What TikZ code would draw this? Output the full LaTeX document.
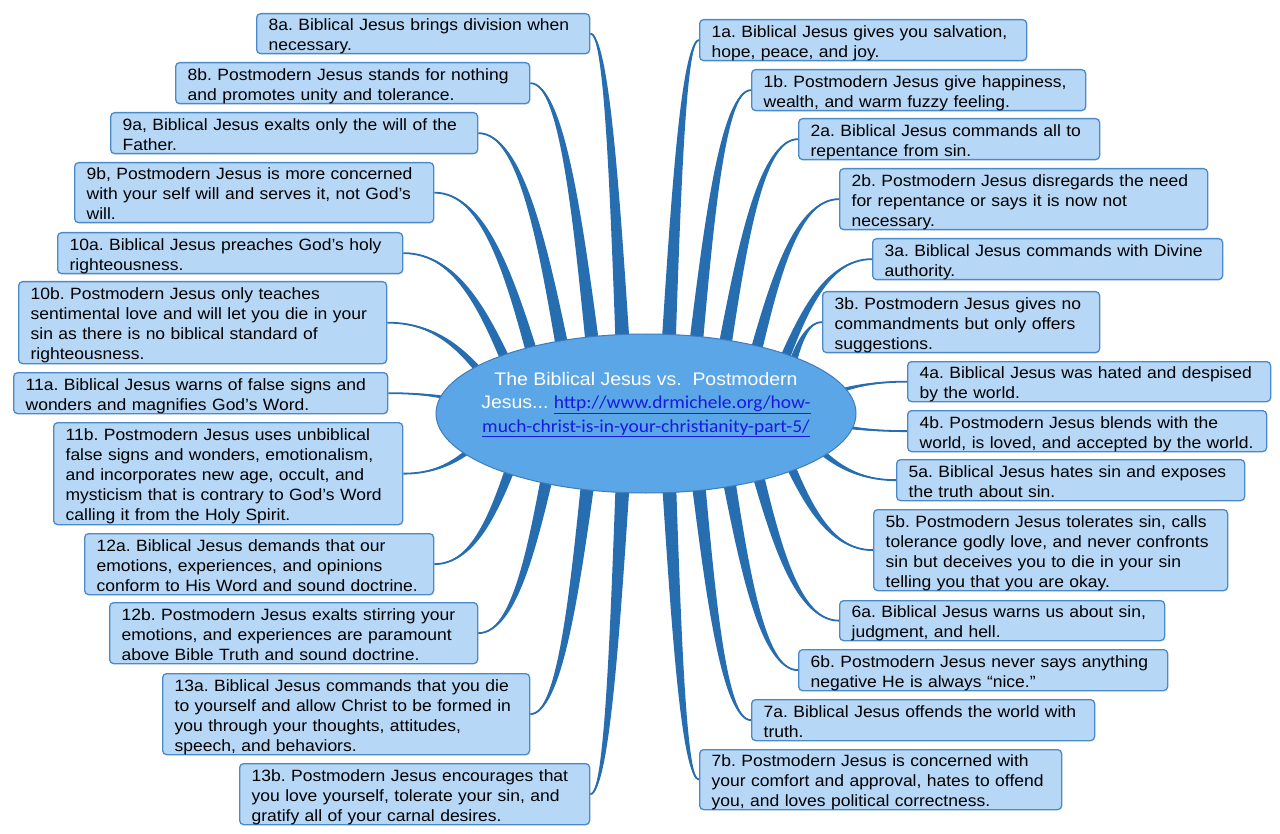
\documentclass[tikz,border=0pt]{standalone}
\usepackage{fontspec}
\setmainfont{Liberation Sans}[FakeStretch=1.07]
\newfontfamily\linkfont{Carlito}[FakeStretch=1.07]
\usetikzlibrary{calc,shapes.geometric}
\pgfdeclarelayer{bg}
\pgfsetlayers{bg,main}
\frenchspacing
\definecolor{boxfill}{RGB}{182,215,246}
\definecolor{boxline}{RGB}{74,138,200}
\definecolor{branchc}{RGB}{39,110,176}
\definecolor{hubfill}{RGB}{91,166,230}
\definecolor{hubline}{RGB}{62,124,190}
\definecolor{linkc}{RGB}{25,25,225}
\newcommand\blines[1]{\raisebox{0pt}[\height][\dimexpr\depth-6pt\relax]{\begin{tabular}{@{}l@{}}#1\end{tabular}}}
\newcommand\bx[6]{\node[box,minimum height=#5pt,text width=\dimexpr#4pt-24pt\relax] (#1) at (#2,#3) {\blines{#6}};}
\newcommand\lnk[1]{{\linkfont\color{linkc}\underline{#1}}}
\newcommand\mybranch[2]{%
  \coordinate (E) at (#1.#2);
  \pgfmathanglebetweenpoints{\pgfpointanchor{O}{center}}{\pgfpointanchor{E}{center}}%
  \let\brang\pgfmathresult
  \pgfmathsetmacro\brsx{157.5*cos(\brang)}%
  \pgfmathsetmacro\brsy{59.6*sin(\brang)}%
  \pgfmathsetmacro\brhw{3.2+4*abs(sin(\brang))}%
  \coordinate (S) at ($(O)+(\brsx pt,\brsy pt)$);
  \coordinate (K) at ($(E)!0.5!(S |- E)$);
  \coordinate (C1) at ($(S)!0.5!(K)$);
  \coordinate (N) at ($(S)!\brhw pt!90:(K)$);
  \fill[branch] (N) .. controls ($(C1)+0.6667*(N)-0.6667*(S)$) and ($(K)+0.3333*(N)-0.3333*(S)$) .. (E)
     .. controls ($(K)-0.3333*(N)+0.3333*(S)$) and ($(C1)-0.6667*(N)+0.6667*(S)$) .. ($2*(S)-(N)$) -- cycle;
  \draw[core] (S) .. controls (C1) and (K) .. (E);
}
\tikzset{
  box/.style={draw=boxline, fill=boxfill, line width=1.3pt, rounded corners=4pt,
    anchor=north west, inner xsep=12pt, inner ysep=0pt, align=left,
    font=\fontsize{16.35}{20}\selectfont, text=black},
  branch/.style={fill=branchc},
  core/.style={draw=branchc, line width=1.8pt},
  hubstyle/.style={ellipse, draw=hubline, fill=hubfill, line width=1pt,
    minimum width=420pt, minimum height=159pt, inner sep=0pt},
  hubtxt/.style={text=white, inner sep=0pt, font=\fontsize{18.2}{23.5}\selectfont}
}
\begin{document}
\begin{tikzpicture}[x=1pt,y=-1pt]
\useasboundingbox (0,0) rectangle (1280,834);

\node[hubstyle] (hub) at (646,413.5) {};
\coordinate (O) at (hub.center);
\node[hubtxt, anchor=base] (title) at (646,385) {\begin{tabular}[t]{@{}c@{}}The Biblical Jesus vs.\ \ Postmodern\\Jesus... \lnk{http://www.drmichele.org/how-}\\\lnk{much-christ-is-in-your-christianity-part-5/}\end{tabular}};

% right side
\bx{b1a}{699}{19}{327}{41}{1a. Biblical Jesus gives you salvation,\\hope, peace, and joy.}
\bx{b1b}{751}{69}{334}{41}{1b. Postmodern Jesus give happiness,\\wealth, and warm fuzzy feeling.}
\bx{b2a}{798}{118}{301}{41}{2a. Biblical Jesus commands all to\\repentance from sin.}
\bx{b2b}{839}{168}{368}{61}{2b. Postmodern Jesus disregards the need\\for repentance or says it is now not\\necessary.}
\bx{b3a}{872}{238}{350}{41}{3a. Biblical Jesus commands with Divine\\authority.}
\bx{b3b}{822}{291}{277}{61}{3b. Postmodern Jesus gives no\\commandments but only offers\\suggestions.}
\bx{b4a}{907}{361}{363}{40}{4a. Biblical Jesus was hated and despised\\by the world.}
\bx{b4b}{907}{410}{359}{41}{4b. Postmodern Jesus blends with the\\world, is loved, and accepted by the world.}
\bx{b5a}{896}{459}{348}{41}{5a. Biblical Jesus hates sin and exposes\\the truth about sin.}
\bx{b5b}{873}{509}{354}{81}{5b. Postmodern Jesus tolerates sin, calls\\tolerance godly love, and never confronts\\sin but deceives you to die in your sin\\telling you that you are okay.}
\bx{b6a}{839}{600}{325}{40}{6a. Biblical Jesus warns us about sin,\\judgment, and hell.}
\bx{b6b}{798}{649}{369}{41}{6b. Postmodern Jesus never says anything\\negative He is always “nice.”}
\bx{b7a}{751}{699}{343}{41}{7a. Biblical Jesus offends the world with\\truth.}
\bx{b7b}{699}{749}{362}{60}{7b. Postmodern Jesus is concerned with\\your comfort and approval, hates to offend\\you, and loves political correctness.}
% left side
\bx{b8a}{256}{13}{333}{40}{8a. Biblical Jesus brings division when\\necessary.}
\bx{b8b}{175}{62}{354}{41}{8b. Postmodern Jesus stands for nothing\\and promotes unity and tolerance.}
\bx{b9a}{110}{112}{367}{41}{9a, Biblical Jesus exalts only the will of the\\Father.}
\bx{b9b}{74}{162}{359}{60}{9b, Postmodern Jesus is more concerned\\with your self will and serves it, not God’s\\will.}
\bx{b10a}{57}{232}{345}{41}{10a. Biblical Jesus preaches God’s holy\\righteousness.}
\bx{b10b}{18}{281}{368}{82}{10b. Postmodern Jesus only teaches\\sentimental love and will let you die in your\\sin as there is no biblical standard of\\righteousness.}
\bx{b11a}{13}{372}{374}{41}{11a. Biblical Jesus warns of false signs and\\wonders and magnifies God’s Word.}
\bx{b11b}{53}{422}{349}{102}{11b. Postmodern Jesus uses unbiblical\\false signs and wonders, emotionalism,\\and incorporates new age, occult, and\\mysticism that is contrary to God’s Word\\calling it from the Holy Spirit.}
\bx{b12a}{84}{533}{349}{61}{12a. Biblical Jesus demands that our\\emotions, experiences, and opinions\\conform to His Word and sound doctrine.}
\bx{b12b}{109}{602}{368}{61}{12b. Postmodern Jesus exalts stirring your\\emotions, and experiences are paramount\\above Bible Truth and sound doctrine.}
\bx{b13a}{162}{673}{367}{81}{13a. Biblical Jesus commands that you die\\to yourself and allow Christ to be formed in\\you through your thoughts, attitudes,\\speech, and behaviors.}
\bx{b13b}{239}{763}{350}{61}{13b. Postmodern Jesus encourages that\\you love yourself, tolerate your sin, and\\gratify all of your carnal desires.}

\begin{pgfonlayer}{bg}
\fill[white] (0,0) rectangle (1280,834);
\foreach \n in {b1a,b1b,b2a,b2b,b3a,b3b,b4a,b4b,b5a,b5b,b6a,b6b,b7a,b7b} {\mybranch{\n}{west}}
\foreach \n in {b8a,b8b,b9a,b9b,b10a,b10b,b11a,b11b,b12a,b12b,b13a,b13b} {\mybranch{\n}{east}}
\end{pgfonlayer}
\end{tikzpicture}
\end{document}
